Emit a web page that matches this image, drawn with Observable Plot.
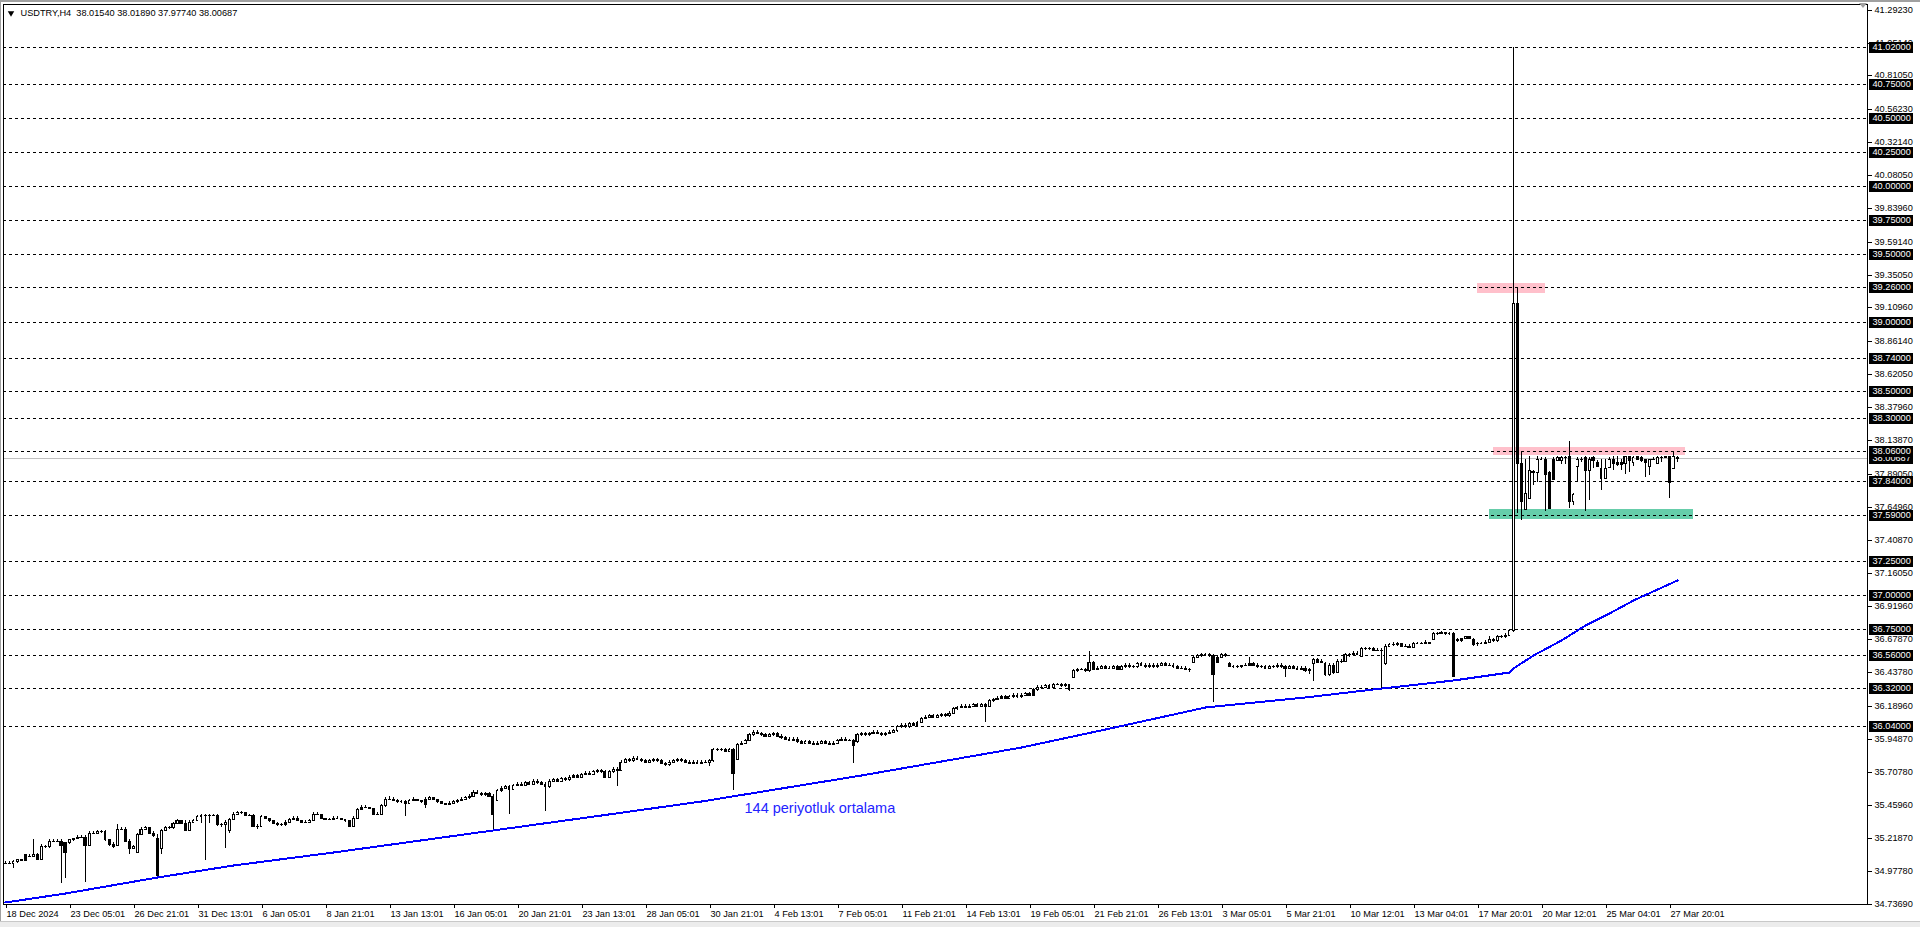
<!DOCTYPE html>
<html><head><meta charset="utf-8">
<script src="https://cdn.jsdelivr.net/npm/d3@7"></script>
<script src="https://cdn.jsdelivr.net/npm/@observablehq/plot@0.6"></script>
<style>
html,body{margin:0;padding:0;background:#fff;}
#wrap{position:relative;width:1920px;height:927px;overflow:hidden;background:#fff;}
#wrap svg{position:absolute;left:0;top:0;}
.edge{position:absolute;}
</style></head><body>
<div id="wrap"></div>
<script>
// ---------- DATA ----------
const symbol = "USDTRY,H4";
const lastOHLC = [38.01540, 38.01890, 37.97740, 38.00687];

// H4 candles, one value per bar (bar 0 = 18 Dec 2024)
const opens = [
35.04,35.04,35.04,35.05,35.07,35.06,35.09,35.09,35.10,35.07,
35.16,35.16,35.20,35.20,35.20,35.12,35.19,35.21,35.22,35.23,
35.23,35.17,35.26,35.26,35.27,35.27,35.21,35.18,35.17,35.29,
35.29,35.20,35.15,35.12,35.25,35.29,35.30,35.26,35.22,35.15,
35.28,35.30,35.30,35.33,35.35,35.33,35.28,35.34,35.35,35.38,
35.39,35.39,35.39,35.39,35.32,35.32,35.28,35.36,35.40,35.41,
35.41,35.39,35.39,35.31,35.31,35.38,35.37,35.35,35.33,35.32,
35.32,35.34,35.36,35.37,35.35,35.34,35.34,35.35,35.40,35.40,
35.37,35.36,35.36,35.37,35.37,35.36,35.35,35.31,35.37,35.43,
35.45,35.45,35.44,35.40,35.40,35.46,35.51,35.51,35.50,35.49,
35.49,35.48,35.50,35.51,35.50,35.47,35.51,35.52,35.51,35.49,
35.48,35.47,35.48,35.49,35.50,35.51,35.52,35.53,35.56,35.55,
35.54,35.55,35.53,35.50,35.57,35.59,35.60,35.58,35.61,35.62,
35.61,35.63,35.62,35.64,35.63,35.62,35.60,35.64,35.65,35.64,
35.66,35.65,35.67,35.68,35.67,35.69,35.70,35.69,35.71,35.72,
35.71,35.67,35.71,35.73,35.72,35.78,35.80,35.79,35.81,35.80,
35.79,35.78,35.79,35.80,35.79,35.77,35.76,35.78,35.79,35.80,
35.79,35.78,35.77,35.78,35.77,35.78,35.78,35.79,35.87,35.87,
35.87,35.86,35.87,35.80,35.91,35.92,35.94,35.98,36.00,35.99,
35.98,35.97,35.98,35.99,35.97,35.96,35.95,35.94,35.95,35.93,
35.92,35.93,35.92,35.91,35.92,35.93,35.92,35.91,35.92,35.94,
35.95,35.94,35.94,35.93,35.98,35.99,35.98,35.99,36.00,35.99,
35.98,35.99,36.00,36.01,36.04,36.05,36.04,36.06,36.05,36.07,
36.10,36.11,36.12,36.11,36.12,36.13,36.12,36.14,36.17,36.18,
36.19,36.18,36.19,36.20,36.19,36.20,36.19,36.23,36.24,36.25,
36.26,36.25,36.26,36.27,36.26,36.27,36.28,36.27,36.31,36.33,
36.33,36.34,36.33,36.35,36.35,36.34,36.35,36.40,36.45,36.46,
36.46,36.45,36.51,36.46,36.47,36.48,36.47,36.47,36.48,36.46,
36.48,36.49,36.48,36.48,36.50,36.49,36.48,36.49,36.48,36.49,
36.50,36.49,36.49,36.48,36.47,36.47,36.46,36.51,36.55,36.56,
36.57,36.57,36.56,36.51,36.55,36.57,36.50,36.48,36.48,36.48,
36.49,36.49,36.50,36.49,36.48,36.48,36.47,36.48,36.48,36.49,
36.48,36.47,36.48,36.47,36.46,36.47,36.45,36.50,36.53,36.51,
36.50,36.42,36.49,36.44,36.52,36.52,36.57,36.57,36.58,36.555,
36.61,36.61,36.61,36.60,36.60,36.50,36.63,36.645,36.64,36.65,
36.63,36.63,36.62,36.65,36.65,36.65,36.66,36.68,36.72,36.725,
36.73,36.72,36.72,36.67,36.67,36.69,36.70,36.68,36.65,36.65,
36.65,36.66,36.68,36.67,36.70,36.70,36.71,36.745,39.14,37.97,
37.63,37.71,37.90,37.90,38.00,38.00,37.90,37.85,37.99,37.99,
38.01,38.02,37.69,37.95,38.00,38.01,37.92,38.01,37.98,37.93,
37.86,37.94,38.00,37.98,37.98,37.97,38.02,37.98,38.02,38.01,
38.00,37.95,38.00,37.97,38.01,38.01,38.02,37.93,38.0154];
const highs = [
35.05,35.05,35.06,35.07,35.07,35.10,35.10,35.21,35.11,35.18,
35.17,35.21,35.21,35.21,35.21,35.19,35.21,35.22,35.24,35.24,
35.24,35.27,35.27,35.28,35.28,35.28,35.21,35.19,35.32,35.30,
35.30,35.21,35.17,35.26,35.30,35.31,35.30,35.27,35.25,35.29,
35.31,35.31,35.34,35.36,35.35,35.35,35.35,35.36,35.39,35.40,
35.40,35.40,35.40,35.40,35.33,35.35,35.37,35.41,35.42,35.42,
35.41,35.40,35.40,35.32,35.39,35.38,35.37,35.35,35.34,35.33,
35.35,35.37,35.38,35.38,35.35,35.35,35.36,35.41,35.41,35.40,
35.37,35.37,35.38,35.38,35.37,35.36,35.35,35.38,35.44,35.46,
35.46,35.45,35.44,35.41,35.47,35.52,35.53,35.52,35.51,35.50,
35.50,35.51,35.52,35.51,35.50,35.52,35.53,35.52,35.51,35.49,
35.48,35.49,35.50,35.51,35.52,35.53,35.54,35.57,35.57,35.56,
35.56,35.56,35.54,35.58,35.60,35.61,35.61,35.62,35.63,35.63,
35.64,35.64,35.65,35.65,35.64,35.63,35.65,35.66,35.66,35.67,
35.67,35.68,35.69,35.69,35.70,35.71,35.71,35.72,35.73,35.73,
35.72,35.72,35.74,35.74,35.79,35.81,35.81,35.82,35.82,35.81,
35.80,35.80,35.81,35.81,35.80,35.78,35.79,35.80,35.81,35.81,
35.80,35.79,35.79,35.79,35.79,35.79,35.80,35.88,35.88,35.88,
35.88,35.88,35.88,35.92,35.93,35.95,35.99,36.01,36.01,36.00,
35.99,35.99,36.00,36.00,35.98,35.97,35.96,35.96,35.96,35.94,
35.94,35.94,35.93,35.93,35.94,35.94,35.93,35.93,35.95,35.96,
35.96,35.95,35.95,35.99,36.00,36.00,36.00,36.01,36.01,36.00,
36.00,36.01,36.02,36.05,36.06,36.06,36.07,36.07,36.08,36.11,
36.12,36.13,36.13,36.13,36.14,36.14,36.15,36.18,36.19,36.20,
36.20,36.20,36.21,36.21,36.21,36.21,36.24,36.25,36.26,36.27,
36.27,36.27,36.28,36.28,36.28,36.29,36.29,36.32,36.34,36.34,
36.35,36.35,36.36,36.36,36.36,36.36,36.35,36.46,36.47,36.47,
36.47,36.59,36.52,36.48,36.49,36.49,36.48,36.49,36.49,36.49,
36.50,36.50,36.49,36.51,36.51,36.50,36.50,36.50,36.50,36.51,
36.51,36.50,36.50,36.49,36.48,36.48,36.47,36.56,36.57,36.58,
36.58,36.58,36.57,36.56,36.58,36.58,36.51,36.49,36.49,36.49,
36.50,36.55,36.51,36.50,36.49,36.49,36.49,36.49,36.50,36.50,
36.49,36.49,36.49,36.48,36.48,36.48,36.47,36.54,36.54,36.53,
36.51,36.50,36.50,36.53,36.53,36.58,36.58,36.59,36.59,36.62,
36.62,36.62,36.62,36.61,36.61,36.64,36.65,36.66,36.66,36.65,
36.64,36.64,36.66,36.66,36.66,36.67,36.66,36.73,36.73,36.74,
36.73,36.73,36.73,36.69,36.69,36.70,36.70,36.69,36.66,36.66,
36.67,36.70,36.69,36.71,36.71,36.72,36.75,41.02,39.26,38.05,
38.00,38.02,37.92,38.02,38.01,38.01,37.91,38.01,38.02,38.02,
38.02,38.13,37.75,38.01,38.01,38.02,38.01,38.02,37.99,38.00,
38.00,38.01,38.02,38.02,38.00,38.02,38.02,38.02,38.02,38.02,
38.00,38.00,38.01,38.02,38.02,38.02,38.02,38.05,38.0189];
const lows = [
35.03,35.03,35.00,35.04,35.05,35.05,35.08,35.08,35.06,35.06,
35.15,35.15,35.19,35.19,34.89,34.93,35.18,35.20,35.21,35.22,
34.90,35.16,35.25,35.25,35.26,35.20,35.16,35.15,35.16,35.28,
35.20,35.10,35.14,35.11,35.24,35.28,35.25,35.23,34.93,35.10,
35.27,35.29,35.29,35.33,35.32,35.27,35.28,35.34,35.35,35.33,
35.06,35.33,35.38,35.31,35.30,35.15,35.26,35.35,35.40,35.40,
35.38,35.38,35.30,35.29,35.30,35.36,35.34,35.32,35.31,35.31,
35.31,35.34,35.36,35.35,35.33,35.33,35.33,35.35,35.39,35.36,
35.35,35.35,35.35,35.36,35.35,35.34,35.30,35.30,35.36,35.43,
35.44,35.43,35.39,35.39,35.39,35.45,35.50,35.49,35.48,35.48,
35.38,35.47,35.50,35.49,35.48,35.44,35.51,35.50,35.48,35.47,
35.46,35.46,35.47,35.48,35.49,35.50,35.51,35.52,35.54,35.53,
35.53,35.52,35.28,35.49,35.56,35.58,35.40,35.57,35.60,35.60,
35.60,35.61,35.61,35.62,35.61,35.42,35.59,35.63,35.63,35.63,
35.64,35.64,35.66,35.66,35.66,35.68,35.68,35.68,35.70,35.70,
35.66,35.66,35.70,35.60,35.71,35.77,35.78,35.78,35.79,35.78,
35.77,35.77,35.78,35.78,35.76,35.75,35.75,35.77,35.78,35.78,
35.77,35.76,35.76,35.76,35.76,35.77,35.75,35.78,35.86,35.86,
35.85,35.85,35.57,35.79,35.90,35.91,35.93,35.97,35.98,35.97,
35.96,35.96,35.97,35.96,35.95,35.94,35.93,35.93,35.92,35.91,
35.91,35.91,35.90,35.90,35.91,35.91,35.90,35.90,35.91,35.93,
35.93,35.93,35.77,35.92,35.97,35.97,35.97,35.98,35.98,35.97,
35.97,35.98,35.99,36.00,36.03,36.03,36.03,36.04,36.04,36.06,
36.09,36.10,36.10,36.10,36.11,36.11,36.11,36.13,36.16,36.17,
36.17,36.17,36.18,36.18,36.18,36.07,36.18,36.22,36.23,36.24,
36.24,36.24,36.25,36.25,36.25,36.26,36.26,36.26,36.30,36.32,
36.32,36.32,36.32,36.34,36.33,36.33,36.30,36.39,36.44,36.45,
36.44,36.44,36.45,36.45,36.46,36.46,36.46,36.46,36.45,36.46,
36.47,36.47,36.47,36.47,36.48,36.47,36.47,36.47,36.47,36.48,
36.48,36.48,36.47,36.46,36.46,36.45,36.44,36.50,36.55,36.55,
36.56,36.55,36.22,36.50,36.54,36.55,36.48,36.47,36.47,36.47,
36.48,36.48,36.48,36.47,36.47,36.46,36.46,36.47,36.47,36.47,
36.40,36.46,36.46,36.45,36.45,36.44,36.42,36.37,36.50,36.50,
36.41,36.41,36.42,36.43,36.50,36.51,36.55,36.56,36.56,36.55,
36.60,36.60,36.59,36.59,36.31,36.49,36.63,36.63,36.63,36.62,
36.62,36.61,36.62,36.64,36.64,36.64,36.64,36.67,36.71,36.72,
36.71,36.71,36.40,36.66,36.66,36.68,36.68,36.63,36.63,36.64,
36.64,36.65,36.66,36.66,36.69,36.69,36.70,36.73,37.60,37.55,
37.63,37.71,37.81,37.83,37.99,37.62,37.63,37.85,37.99,37.96,
37.96,37.64,37.66,37.83,37.98,37.62,37.70,37.93,37.94,37.77,
37.86,37.93,37.92,37.95,37.92,37.89,37.90,37.95,38.00,37.98,
37.87,37.88,37.99,37.97,37.98,38.01,37.71,37.93,37.9774];
const closes = [
35.04,35.04,35.05,35.07,35.06,35.10,35.09,35.10,35.07,35.16,
35.16,35.20,35.20,35.20,35.17,35.19,35.21,35.22,35.23,35.23,
35.17,35.26,35.26,35.27,35.27,35.21,35.18,35.16,35.29,35.29,
35.20,35.15,35.16,35.25,35.29,35.30,35.26,35.24,34.95,35.28,
35.30,35.30,35.33,35.35,35.33,35.28,35.34,35.35,35.38,35.39,
35.39,35.39,35.39,35.32,35.32,35.34,35.36,35.40,35.41,35.41,
35.39,35.39,35.31,35.31,35.38,35.37,35.35,35.33,35.32,35.32,
35.34,35.36,35.37,35.35,35.34,35.34,35.35,35.40,35.40,35.37,
35.36,35.36,35.37,35.37,35.36,35.35,35.31,35.37,35.43,35.45,
35.45,35.44,35.40,35.40,35.46,35.51,35.51,35.50,35.49,35.49,
35.48,35.50,35.51,35.50,35.49,35.51,35.52,35.51,35.49,35.48,
35.47,35.48,35.49,35.50,35.51,35.52,35.53,35.56,35.55,35.54,
35.55,35.53,35.40,35.57,35.59,35.60,35.58,35.61,35.62,35.61,
35.63,35.62,35.64,35.63,35.62,35.60,35.64,35.65,35.64,35.66,
35.65,35.67,35.68,35.67,35.69,35.70,35.69,35.71,35.72,35.71,
35.67,35.71,35.73,35.72,35.78,35.80,35.79,35.81,35.80,35.79,
35.78,35.79,35.80,35.79,35.77,35.76,35.78,35.79,35.80,35.79,
35.78,35.77,35.78,35.77,35.78,35.78,35.79,35.87,35.87,35.87,
35.86,35.87,35.70,35.91,35.92,35.94,35.98,36.00,35.99,35.98,
35.97,35.98,35.99,35.97,35.96,35.95,35.94,35.95,35.93,35.92,
35.93,35.92,35.91,35.92,35.93,35.92,35.91,35.92,35.94,35.95,
35.94,35.94,35.90,35.98,35.99,35.98,35.99,36.00,35.99,35.98,
35.99,36.00,36.01,36.04,36.05,36.04,36.06,36.05,36.07,36.10,
36.11,36.12,36.11,36.12,36.13,36.12,36.14,36.17,36.18,36.19,
36.18,36.19,36.20,36.19,36.20,36.19,36.23,36.24,36.25,36.26,
36.25,36.26,36.27,36.26,36.27,36.28,36.27,36.31,36.33,36.33,
36.34,36.33,36.35,36.35,36.34,36.35,36.31,36.45,36.46,36.46,
36.45,36.51,36.46,36.47,36.48,36.47,36.47,36.48,36.46,36.48,
36.49,36.48,36.48,36.50,36.49,36.48,36.49,36.48,36.49,36.50,
36.49,36.49,36.48,36.47,36.47,36.46,36.46,36.55,36.56,36.57,
36.57,36.56,36.42,36.55,36.57,36.56,36.48,36.48,36.48,36.49,
36.49,36.50,36.49,36.48,36.48,36.47,36.48,36.48,36.49,36.48,
36.47,36.48,36.47,36.46,36.47,36.45,36.46,36.53,36.51,36.52,
36.42,36.49,36.44,36.52,36.52,36.57,36.57,36.58,36.57,36.61,
36.61,36.61,36.60,36.60,36.60,36.63,36.645,36.64,36.65,36.63,
36.63,36.62,36.65,36.65,36.65,36.66,36.65,36.72,36.725,36.73,
36.72,36.725,36.41,36.68,36.69,36.70,36.69,36.64,36.65,36.65,
36.66,36.68,36.67,36.70,36.70,36.71,36.745,39.14,37.97,37.69,
37.75,37.92,37.91,38.00,38.00,37.89,37.64,38.00,38.01,38.01,
38.01,37.69,37.74,38.00,38.00,37.92,38.00,37.99,37.95,37.86,
37.93,38.00,37.97,37.96,37.96,38.02,37.99,38.01,38.00,37.99,
37.98,38.00,38.00,38.01,38.01,38.02,37.83,38.02,38.00687];

// 144-period moving average, read at bar positions
const maBar = [0, 15, 38, 57, 82, 111, 149, 174, 214, 254, 275, 300, 325, 342, 362, 376, 377, 382, 389, 395, 401, 407, 418];
const maValue = [34.754, 34.816, 34.933, 35.023, 35.121, 35.236, 35.39, 35.495, 35.683, 35.89, 36.02, 36.179, 36.257, 36.311, 36.379, 36.438, 36.47, 36.56, 36.672, 36.782, 36.868, 36.966, 37.11];
const maLabel = "144 periyotluk ortalama";

// horizontal level lines
const levels = [41.02, 40.75, 40.50, 40.25, 40.00, 39.75, 39.50, 39.26, 39.00, 38.74, 38.50, 38.30, 38.06, 37.84, 37.59, 37.25, 37.00, 36.75, 36.56, 36.32, 36.04];

// rectangle zones (bar from / bar to / price low / price high / kind)
const zoneFrom = [368, 372, 371];
const zoneTo = [385, 420, 422];
const zoneLow = [39.216, 38.028, 37.559];
const zoneHigh = [39.289, 38.087, 37.633];
const zoneKind = ["resistance", "resistance", "support"];

// price-scale ticks
const yScaleTicks = [41.2923, 41.0514, 40.8105, 40.5623, 40.3214, 40.0805, 39.8396, 39.5914, 39.3505, 39.1096, 38.8614, 38.6205, 38.3796, 38.1387, 37.8905, 37.6496, 37.4087, 37.1605, 36.9196, 36.6787, 36.4378, 36.1896, 35.9487, 35.7078, 35.4596, 35.2187, 34.9778, 34.7369];

// time-scale ticks
const xTickBars = [0,16,32,48,64,80,96,112,128,144,160,176,192,208,224,240,256,272,288,304,320,336,352,368,384,400,416];
const xTickLabels = ["18 Dec 2024","23 Dec 05:01","26 Dec 21:01","31 Dec 13:01","6 Jan 05:01","8 Jan 21:01","13 Jan 13:01","16 Jan 05:01","20 Jan 21:01","23 Jan 13:01","28 Jan 05:01","30 Jan 21:01","4 Feb 13:01","7 Feb 05:01","11 Feb 21:01","14 Feb 13:01","19 Feb 05:01","21 Feb 21:01","26 Feb 13:01","3 Mar 05:01","5 Mar 21:01","10 Mar 12:01","13 Mar 04:01","17 Mar 20:01","20 Mar 12:01","25 Mar 04:01","27 Mar 20:01"];

// ---------- CHART ----------
const FONT = "Tahoma, 'Liberation Sans', Arial, sans-serif";
const FS = 9.2;
const zoneColor = {resistance: "#ffc0cb", support: "#66cdaa"};
const bars = d3.range(closes.length);
const ups = bars.filter(i => closes[i] > opens[i]);
const zones = zoneFrom.map((f, k) => ({f, t: zoneTo[k], lo: zoneLow[k], hi: zoneHigh[k], kind: zoneKind[k]}));
const ma = maBar.map((b, k) => ({b, v: maValue[k]}));
const xLabel = new Map(xTickBars.map((b, k) => [b, xTickLabels[k]]));
const current = lastOHLC[3];
const header = symbol + "\u00a0\u00a0" + lastOHLC.map(v => v.toFixed(5)).join(" ");

const chart = Plot.plot({
  width: 1920, height: 927,
  marginLeft: 3, marginRight: 53, marginTop: 4, marginBottom: 23,
  x: {type: "linear", domain: [-0.5, 465.5], axis: null, round: true},
  y: {type: "linear", domain: [34.7369, 41.334], axis: null, round: true},
  style: {background: "#fff", fontFamily: FONT, fontSize: FS + "px", color: "#000", overflow: "visible"},
  marks: [
    Plot.rect(zones, {x1: "f", x2: "t", y1: "lo", y2: "hi", fill: d => zoneColor[d.kind]}),
    Plot.ruleY(levels, {stroke: "#000", strokeDasharray: "3,3", shapeRendering: "crispEdges"}),
    Plot.ruleY([current], {stroke: "#c0c0c0", shapeRendering: "crispEdges"}),
    // wicks
    Plot.ruleX(bars, {x: i => i, y1: i => lows[i], y2: i => highs[i], stroke: "#000", shapeRendering: "crispEdges"}),
    // bodies (outer black)
    Plot.rect(bars, {x1: i => i - 0.375, x2: i => i + 0.375, y1: i => opens[i], y2: i => closes[i], fill: "#000", insetTop: -0.5, insetBottom: -0.5, shapeRendering: "crispEdges"}),
    // hollow interior for rising bars
    Plot.rect(ups, {x1: i => i - 0.125, x2: i => i + 0.125, y1: i => opens[i], y2: i => closes[i], fill: "#fff", insetTop: 0.5, insetBottom: 0.5, shapeRendering: "crispEdges"}),
    // moving average
    Plot.line(ma, {x: "b", y: "v", stroke: "#0000ff", strokeWidth: 2, shapeRendering: "crispEdges"}),
    Plot.text([maLabel], {x: 184.75, y: 35.44, text: d => d, fill: "#2323ff", fontSize: 14.5, fontFamily: "'Liberation Sans', Arial, sans-serif", textAnchor: "start", lineAnchor: "middle"}),
    Plot.frame({stroke: "#000"}),
    // time axis
    Plot.axisX(xTickBars, {anchor: "bottom", tickSize: 4, tickPadding: 2, label: null, tickFormat: d => xLabel.get(d), textAnchor: "start", dx: 1, fontSize: FS, fill: "#000"}),
    // price axis
    Plot.axisY(yScaleTicks, {anchor: "right", tickSize: 4, tickPadding: 3, label: null, tickFormat: d => d.toFixed(5), fontSize: FS, fill: "#000"}),
    // current price box
    Plot.ruleY([current], {x1: 466, x2: 477, stroke: "#000", strokeWidth: 11}),
    Plot.text([current], {x: 466.8, y: d => d, text: d => d.toFixed(5), fill: "#fff", textAnchor: "start", fontSize: FS}),
    // level boxes
    Plot.ruleY(levels, {x1: 466, x2: 477, stroke: "#000", strokeWidth: 11}),
    Plot.text(levels, {x: 466.8, y: d => d, text: d => d.toFixed(5), fill: "#fff", textAnchor: "start", fontSize: FS}),
    // header
    Plot.dot([0], {frameAnchor: "top-left", dx: 7.5, dy: 8.5, symbol: "triangle", r: 2.4, rotate: 180, fill: "#000", stroke: null}),
    Plot.text([header], {frameAnchor: "top-left", dx: 17, dy: 9, text: d => d, textAnchor: "start", lineAnchor: "middle", fontSize: FS, fill: "#000"})
  ]
});
const wrap = document.getElementById("wrap");
wrap.appendChild(chart);
// window chrome
function edge(l, t, w, h, bg) { const d = document.createElement("div"); d.className = "edge"; Object.assign(d.style, {left: l + "px", top: t + "px", width: w + "px", height: h + "px", background: bg}); wrap.appendChild(d); }
edge(0, 0, 1920, 2, "#a0a0a0");
edge(0, 0, 1, 927, "#a0a0a0");
edge(0, 921, 1920, 6, "#ececec");
edge(0, 921, 1920, 1, "#c8c8c8");
const tri = document.createElement("div");
Object.assign(tri.style, {position: "absolute", left: "1859px", top: "3px", width: "0", height: "0", borderLeft: "4px solid transparent", borderRight: "4px solid transparent", borderTop: "5px solid #a0a0a0"});
wrap.appendChild(tri);
</script>
</body></html>
